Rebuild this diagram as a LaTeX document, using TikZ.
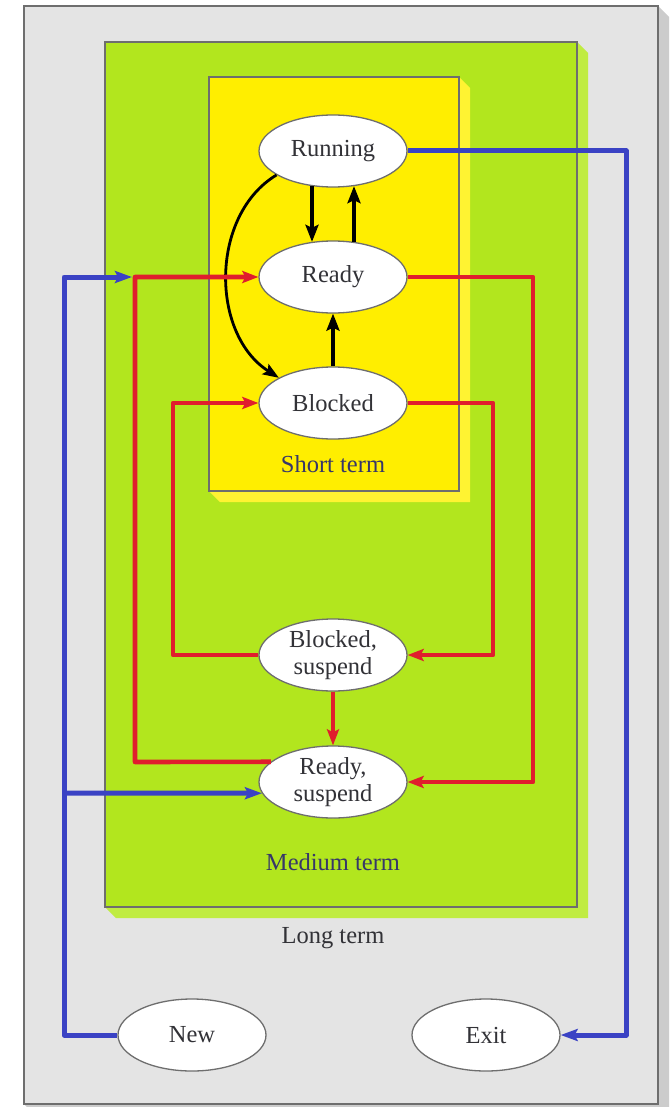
\documentclass[tikz,border=0pt]{standalone}
\usepackage{fontspec}
\setmainfont{Liberation Serif}
\usetikzlibrary{shapes.geometric,arrows.meta}
\definecolor{bggray}{RGB}{228,228,228}
\definecolor{shadowgray}{RGB}{204,204,204}
\definecolor{boxline}{RGB}{110,110,110}
\definecolor{medgreen}{RGB}{178,230,30}
\definecolor{greenshadow}{RGB}{192,236,66}
\definecolor{shortyellow}{RGB}{255,238,0}
\definecolor{yellowshadow}{RGB}{255,243,50}
\definecolor{arrred}{RGB}{224,30,45}
\definecolor{arrblue}{RGB}{58,66,196}
\definecolor{txtgray}{RGB}{50,50,55}
\definecolor{txtblue}{RGB}{55,55,105}
\begin{document}
\begin{tikzpicture}[x=1pt,y=-1pt,
  state/.style={ellipse, draw=boxline, line width=1.3pt, fill=white,
    minimum width=148pt, minimum height=72pt, inner sep=0pt,
    align=center, text=txtgray, font=\fontsize{24.5}{27}\selectfont},
  lbl/.style={font=\fontsize{24.5}{27}\selectfont, inner sep=0pt},
  blk/.style={line width=4.6pt, black, -{Stealth[length=17pt,width=13pt,inset=3pt]}},
  blkthin/.style={line width=2.8pt, black, -{Stealth[length=16pt,width=12pt,inset=3pt]}},
  redarr/.style={line width=4.6pt, arrred, line join=round, -{Stealth[length=16pt,width=12pt,inset=3pt]}},
  bluearr/.style={line width=5pt, arrblue, line join=round, -{Stealth[length=17pt,width=12pt,inset=3pt]}},
  boxstyle/.style={draw=boxline, line width=1.4pt}
]
\useasboundingbox (0,0) rectangle (671,1107);
\fill[white] (0,0) rectangle (671,1107);
% long-term box
\fill[shadowgray] (658,6) -- (669,17) -- (669,1115) -- (35,1115) -- (24,1104) -- cycle;
\fill[bggray] (24,6) rectangle (658,1104);
\draw[boxstyle] (24,6) rectangle (658,1104);
% medium-term box
\fill[greenshadow] (577,42) -- (588,53) -- (588,918) -- (116,918) -- (105,907) -- cycle;
\fill[medgreen] (105,42) rectangle (577,907);
\draw[boxstyle] (105,42) rectangle (577,907);
% short-term box
\fill[yellowshadow] (459,77) -- (470,88) -- (470,502) -- (220,502) -- (209,491) -- cycle;
\fill[shortyellow] (209,77) rectangle (459,491);
\draw[boxstyle] (209,77) rectangle (459,491);

% labels
\node[lbl, text=txtblue] (st) at (333,464) {Short term};
\node[lbl, text=txtblue] (mt) at (333,862) {Medium term};
\node[lbl, text=txtgray] (lt) at (333,938) {Long term};

% states
\node[state] (Running) at (333,151) {Running};
\node[state] (Ready) at (333,277) {Ready};
\node[state] (Blocked) at (333,403) {Blocked};
\node[state] (BS) at (333,655) {Blocked,\\suspend};
\node[state] (RS) at (333,782) {Ready,\\suspend};
\node[state] (New) at (192,1035) {New};
\node[state] (Exit) at (486,1035) {Exit};

\coordinate (joinR) at (132,277);
\coordinate (branch) at (64,793);

% black transitions
\draw[blk] ([xshift=-21pt,yshift=1.5pt]Running.south) -- ([xshift=-21pt,yshift=-1.5pt]Ready.north);
\draw[blk] ([xshift=21pt,yshift=-1.5pt]Ready.north) -- ([xshift=21pt,yshift=1.5pt]Running.south);
\draw[blk] (Blocked.north) -- (Ready.south);
\draw[blkthin] (Running.203) .. controls (210,215) and (210,334) .. (Blocked.155);

% red transitions
\draw[redarr] (RS.162) -- (135,762) -- (135,277) -- (Ready.west);
\draw[redarr] (Ready.east) -- (533,277) -- (533,782) -- (RS.east);
\draw[redarr] (BS.west) -- (173,655) -- (173,403) -- (Blocked.west);
\draw[redarr] (Blocked.east) -- (493,403) -- (493,655) -- (BS.east);
\draw[redarr] (BS.south) -- (RS.north);

% blue transitions
\draw[bluearr] (Running.east) -- (626,151) -- (626,1035) -- (Exit.east);
\draw[bluearr] (New.west) -- (64,1035) -- (64,277) -- (joinR);
\draw[bluearr] (branch) -- (RS.189);
\end{tikzpicture}
\end{document}
